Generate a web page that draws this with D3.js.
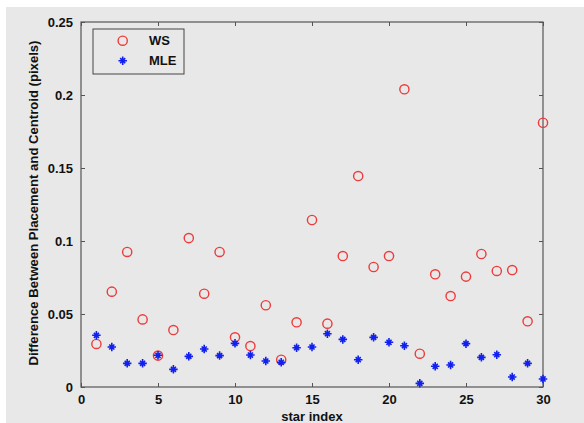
<!DOCTYPE html>
<html lang="en">
<head>
  <meta charset="UTF-8" />
  <title>WS vs MLE</title>
  <style>
    body { margin: 0; background: #fff; }
    svg { display: block; }
    .tick text, .lbl { font-family: "Liberation Sans", Arial, sans-serif; font-weight: bold; fill: #111; }
  </style>
</head>
<body>
  <svg id="chart"></svg>

  <script src="https://d3js.org/d3.v7.min.js"></script>
  <script>
    const starIndex = d3.range(1, 31);
    const wsValues = [
      0.0295, 0.0653, 0.0925, 0.0463, 0.0215, 0.0390, 0.1020, 0.0639, 0.0925, 0.0340,
      0.0280, 0.0560, 0.0187, 0.0443, 0.1144, 0.0434, 0.0897, 0.1445, 0.0822, 0.0897,
      0.2039, 0.0228, 0.0772, 0.0623, 0.0756, 0.0911, 0.0795, 0.0801, 0.0450, 0.1810
    ];
    const mleValues = [
      0.0354, 0.0274, 0.0162, 0.0162, 0.0217, 0.0121, 0.0210, 0.0260, 0.0215, 0.0299,
      0.0219, 0.0178, 0.0169, 0.0269, 0.0274, 0.0365, 0.0326, 0.0187, 0.0340, 0.0306,
      0.0283, 0.0025, 0.0142, 0.0151, 0.0297, 0.0203, 0.0221, 0.0068, 0.0162, 0.0055
    ];
    const xTicks = [0, 5, 10, 15, 20, 25, 30];
    const yTicks = [0, 0.05, 0.1, 0.15, 0.2, 0.25];
    const yTickLabels = ["0", "0.05", "0.1", "0.15", "0.2", "0.25"];
    const seriesNames = ["WS", "MLE"];

    const W = 584, H = 423;
    const box = { left: 81, right: 543, top: 22, bottom: 387 };

    const svg = d3.select("#chart").attr("width", W).attr("height", H);

    // figure background (white strip on top and left like the scan)
    svg.append("rect").attr("x", 6).attr("y", 7).attr("width", W - 6).attr("height", H - 7)
      .attr("fill", "#e8e8e8");

    const x = d3.scaleLinear().domain([0, 30]).range([box.left, box.right]);
    const y = d3.scaleLinear().domain([0, 0.25]).range([box.bottom, box.top]);

    const axisColor = "#555";
    const tickLen = 4;

    // inward ticks on all four sides (matlab box)
    svg.append("g")
      .attr("transform", `translate(0,${box.bottom})`)
      .call(d3.axisBottom(x).tickValues(xTicks).tickSizeInner(-tickLen).tickSizeOuter(0).tickPadding(8))
      .call(g => g.select(".domain").remove())
      .call(g => g.selectAll("line").attr("stroke", axisColor))
      .call(g => g.selectAll("text").attr("font-size", 13));

    svg.append("g")
      .attr("transform", `translate(0,${box.top})`)
      .call(d3.axisTop(x).tickValues(xTicks).tickSizeInner(-tickLen).tickSizeOuter(0).tickFormat(""))
      .call(g => g.select(".domain").remove())
      .call(g => g.selectAll("line").attr("stroke", axisColor));

    svg.append("g")
      .attr("transform", `translate(${box.left},0)`)
      .call(d3.axisLeft(y).tickValues(yTicks).tickSizeInner(-tickLen).tickSizeOuter(0).tickPadding(8)
        .tickFormat((d, i) => yTickLabels[i]))
      .call(g => g.select(".domain").remove())
      .call(g => g.selectAll("line").attr("stroke", axisColor))
      .call(g => g.selectAll("text").attr("font-size", 13));

    svg.append("g")
      .attr("transform", `translate(${box.right},0)`)
      .call(d3.axisRight(y).tickValues(yTicks).tickSizeInner(-tickLen).tickSizeOuter(0).tickFormat(""))
      .call(g => g.select(".domain").remove())
      .call(g => g.selectAll("line").attr("stroke", axisColor));

    svg.append("rect")
      .attr("x", box.left).attr("y", box.top)
      .attr("width", box.right - box.left).attr("height", box.bottom - box.top)
      .attr("fill", "none").attr("stroke", axisColor).attr("stroke-width", 1.2);

    // asterisk marker: plus + short diagonals
    const asterisk = {
      draw(ctx, size) {
        const r = Math.sqrt(size) / 2;
        const d = r * 0.6;
        ctx.moveTo(-r, 0); ctx.lineTo(r, 0);
        ctx.moveTo(0, -r); ctx.lineTo(0, r);
        ctx.moveTo(-d, -d); ctx.lineTo(d, d);
        ctx.moveTo(-d, d); ctx.lineTo(d, -d);
      }
    };
    const starPath = d3.symbol().type(asterisk).size(72);

    const red = "#ee3a3a", blue = "#1020ee";

    svg.append("g").selectAll("circle")
      .data(starIndex)
      .join("circle")
      .attr("cx", d => x(d))
      .attr("cy", (d, i) => y(wsValues[i]))
      .attr("r", 4.6)
      .attr("fill", "none")
      .attr("stroke", red)
      .attr("stroke-width", 1.4);

    svg.append("g").selectAll("path")
      .data(starIndex)
      .join("path")
      .attr("transform", (d, i) => `translate(${x(d)},${y(mleValues[i])})`)
      .attr("d", starPath)
      .attr("fill", "none")
      .attr("stroke", blue)
      .attr("stroke-width", 1.6);

    // legend
    const legend = svg.append("g");
    legend.append("rect")
      .attr("x", 93).attr("y", 29).attr("width", 91).attr("height", 45)
      .attr("fill", "#e8e8e8").attr("stroke", "#444").attr("stroke-width", 1);
    legend.append("circle")
      .attr("cx", 122.7).attr("cy", 40.7).attr("r", 4.6)
      .attr("fill", "none").attr("stroke", red).attr("stroke-width", 1.4);
    legend.append("path")
      .attr("transform", "translate(122.7,60.7)")
      .attr("d", starPath)
      .attr("fill", "none").attr("stroke", blue).attr("stroke-width", 1.6);
    legend.selectAll("text.lbl")
      .data(seriesNames)
      .join("text")
      .attr("class", "lbl")
      .attr("x", 149)
      .attr("y", (d, i) => 40.7 + i * 20)
      .attr("dy", "0.35em")
      .attr("font-size", 13)
      .text(d => d);

    // axis titles
    svg.append("text")
      .attr("class", "lbl")
      .attr("x", (box.left + box.right) / 2)
      .attr("y", 421)
      .attr("text-anchor", "middle")
      .attr("font-size", 13)
      .text("star index");

    svg.append("text")
      .attr("class", "lbl")
      .attr("transform", "translate(38,203) rotate(-90)")
      .attr("text-anchor", "middle")
      .attr("font-size", 12)
      .attr("textLength", 325)
      .attr("lengthAdjust", "spacingAndGlyphs")
      .text("Difference Between Placement and Centroid (pixels)");
  </script>
</body>
</html>
